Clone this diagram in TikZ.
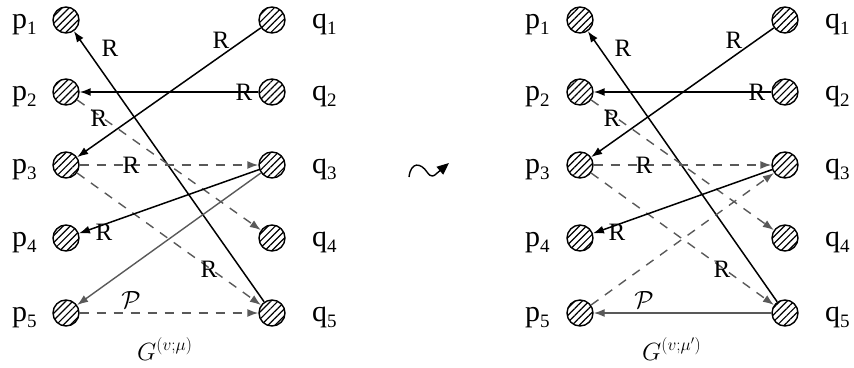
\documentclass[tikz,border=0pt]{standalone}
\usepackage{fontspec}
\setmainfont{Liberation Serif}
\usetikzlibrary{arrows.meta,patterns.meta}
\newcommand{\lbsub}[1]{\raisebox{-0.22em}{\fontsize{19}{19}\selectfont #1}}
\begin{document}
\begin{tikzpicture}[x=1pt,y=-1pt,
  vtx/.style={circle,draw,line width=1.4pt,minimum size=26pt,inner sep=0pt,
    pattern={Lines[angle=45,distance=5pt,line width=1.2pt]}},
  plab/.style={font=\fontsize{30}{32}\selectfont,inner sep=0pt,anchor=base west},
  rlab/.style={font=\fontsize{25}{27}\selectfont,inner sep=0pt},
  glab/.style={font=\fontsize{26}{28}\selectfont,inner sep=0pt,anchor=base west},
  tip/.style={-{Latex[length=11pt,width=8pt]}},
  sol/.style={line width=1.5pt,tip},
  grs/.style={line width=1.4pt,draw=black!65,tip},
  dsh/.style={line width=1.4pt,draw=black!65,dash pattern=on 9pt off 8pt,tip},
]
\useasboundingbox (0,0) rectangle (854,367);

% ---------------- left graph ----------------
\foreach \i/\y in {1/20,2/92,3/165,4/238,5/313}{
  \node[vtx] (lp\i) at (66,\y) {};
  \node[vtx] (lq\i) at (272,\y) {};
  \node[plab] (llp\i) at (12,\y+8) {p\lbsub{\i}};
  \node[plab] (llq\i) at (312,\y+8) {q\lbsub{\i}};
}
\draw[sol] (lq5) -- (lp1);
\draw[sol] (lq1) -- (lp3);
\draw[sol] (lq2) -- (lp2);
\draw[dsh] (lp2) -- (lq4);
\draw[dsh] (lp3) -- (lq3);
\draw[dsh] (lp3) -- (lq5);
\draw[sol] (lq3) -- (lp4);
\draw[grs] (lq3) -- (lp5);
\draw[dsh] (lp5) -- (lq5);
\node[rlab] (lr1) at (110,48) {R};
\node[rlab] (lr2) at (221,40) {R};
\node[rlab] (lr3) at (244,92) {R};
\node[rlab] (lr4) at (99,118) {R};
\node[rlab] (lr5) at (131,165) {R};
\node[rlab] (lr6) at (104,232) {R};
\node[rlab] (lr7) at (209,269) {R};
\node[rlab] (lpp) at (131,300) {$\mathcal{P}$};
\node[glab] (lg) at (137,360) {$G^{(v;\mu)}$};

% ---------------- squiggle ----------------
\coordinate (sqa) at (409,177);
\coordinate (sqm) at (436,174);
\coordinate (sqb) at (449,163);
\draw[line width=1.4pt] (sqa) .. controls (411,161) and (421,163) .. (427,172)
  .. controls (431,178) and (434,176) .. (sqm);
\draw[line width=1.4pt,-{Triangle[length=12pt,width=10pt]}] (sqm) -- (sqb);

% ---------------- right graph ----------------
\foreach \i/\y in {1/20,2/92,3/165,4/238,5/313}{
  \node[vtx] (rp\i) at (580,\y) {};
  \node[vtx] (rq\i) at (785,\y) {};
  \node[plab] (rlp\i) at (525,\y+8) {p\lbsub{\i}};
  \node[plab] (rlq\i) at (825,\y+8) {q\lbsub{\i}};
}
\draw[sol] (rq5) -- (rp1);
\draw[sol] (rq1) -- (rp3);
\draw[sol] (rq2) -- (rp2);
\draw[dsh] (rp2) -- (rq4);
\draw[dsh] (rp3) -- (rq3);
\draw[dsh] (rp3) -- (rq5);
\draw[sol] (rq3) -- (rp4);
\draw[dsh] (rp5) -- (rq3);
\draw[grs] (rq5) -- (rp5);
\node[rlab] (rr1) at (623,48) {R};
\node[rlab] (rr2) at (734,40) {R};
\node[rlab] (rr3) at (757,92) {R};
\node[rlab] (rr4) at (612,118) {R};
\node[rlab] (rr5) at (644,165) {R};
\node[rlab] (rr6) at (617,232) {R};
\node[rlab] (rr7) at (722,269) {R};
\node[rlab] (rpp) at (644,300) {$\mathcal{P}$};
\node[glab] (rg) at (642,360) {$G^{(v;\mu')}$};
\end{tikzpicture}
\end{document}
